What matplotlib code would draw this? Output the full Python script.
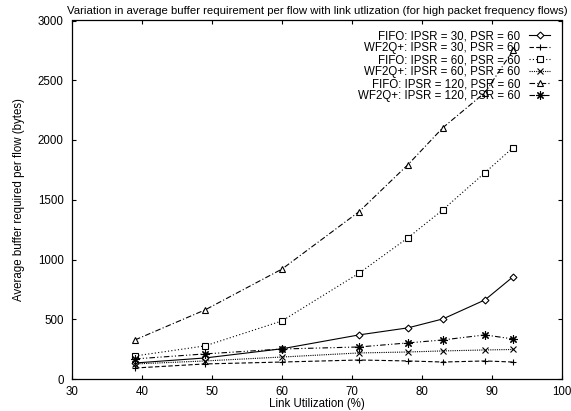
import matplotlib
matplotlib.use("Agg")
import matplotlib.pyplot as plt

util = [39, 49, 60, 71, 78, 83, 89, 93]
fifo_30 = [134, 176, 253, 369, 428, 503, 662, 855]
wf2q_30 = [92, 126, 142, 159, 151, 142, 151, 142]
fifo_60 = [193, 277, 486, 885, 1182, 1417, 1727, 1936]
wf2q_60 = [126, 151, 184, 218, 226, 235, 243, 247]
fifo_120 = [327, 578, 920, 1400, 1794, 2104, 2397, 2749]
wf2q_120 = [168, 210, 251, 268, 302, 327, 369, 335]

labels = ["FIFO: IPSR = 30, PSR = 60", "WF2Q+: IPSR = 30, PSR = 60",
          "FIFO: IPSR = 60, PSR = 60", "WF2Q+: IPSR = 60, PSR = 60",
          "FIFO: IPSR = 120, PSR = 60", "WF2Q+: IPSR = 120, PSR = 60"]

xticks = [30, 40, 50, 60, 70, 80, 90, 100]
yticks = [0, 500, 1000, 1500, 2000, 2500, 3000]

plt.rcParams['font.family'] = ['Liberation Sans', 'DejaVu Sans']
fig = plt.figure(figsize=(5.71, 4.11), dpi=100)
ax = fig.add_axes([72/571, 1-379/411, 490/571, 358.5/411])

lw = 0.8
ax.plot(util, fifo_30, color='black', lw=lw, ls='-', marker='D', ms=3.5, mfc='white', mew=0.8, label=labels[0])
ax.plot(util, wf2q_30, color='black', lw=lw, ls=(0, (4, 2)), marker='+', ms=5, mew=0.8, label=labels[1])
ax.plot(util, fifo_60, color='black', lw=lw, ls=(0, (1, 2)), marker='s', ms=5, mfc='white', mew=0.8, label=labels[2])
ax.plot(util, wf2q_60, color='black', lw=lw, ls=(0, (1, 1)), marker='x', ms=4.5, mew=0.8, label=labels[3])
ax.plot(util, fifo_120, color='black', lw=lw, ls=(0, (5, 2, 1, 2)), marker='^', ms=5, mfc='white', mew=0.8, label=labels[4])
ax.plot(util, wf2q_120, color='black', lw=lw, ls=(0, (5, 2, 1, 2, 1, 2)), marker=(8, 2, 0), ms=6, mew=0.8, label=labels[5])

ax.set_xlim(30, 100)
ax.set_ylim(0, 3000)
ax.set_xticks(xticks)
ax.set_yticks(yticks)
ax.tick_params(direction='in', top=True, right=True, labelsize=8.3, length=3, width=0.8)
ax.tick_params(axis='y', pad=6)
ax.tick_params(axis='x', pad=5)
for s in ax.spines.values():
    s.set_linewidth(0.9)

ax.set_xlabel("Link Utilization (%)", fontsize=8.3, labelpad=0)
ax.set_ylabel("Average buffer required per flow (bytes)", fontsize=8.3, labelpad=9)
ax.set_title("Variation in average buffer requirement per flow with link utlization (for high packet frequency flows)", fontsize=8.2, pad=5)

leg = ax.legend(loc='upper right', frameon=False, markerfirst=False, fontsize=8.3,
                handlelength=1.9, handletextpad=0.7, labelspacing=0.0,
                borderaxespad=0.6, bbox_to_anchor=(1.0, 1.005))
for t in leg.get_texts():
    t.set_ha('right')

fig.savefig("out.png", dpi=100)
